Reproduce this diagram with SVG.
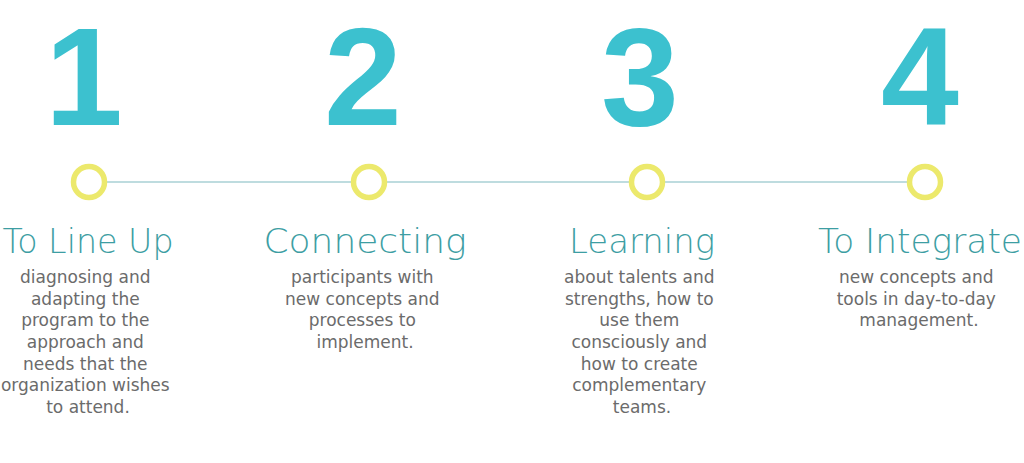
<svg xmlns="http://www.w3.org/2000/svg" width="1024" height="463" viewBox="0 0 1024 463">
<style>
.num{font-family:"Liberation Sans",Arial,sans-serif;font-weight:bold;font-size:140px;fill:#3cc1cf;text-anchor:middle}
.title{font-family:"DejaVu Sans","Liberation Sans",sans-serif;font-weight:300;font-size:33px;fill:#3d9ea3;text-anchor:middle}
.body{font-family:"DejaVu Sans","Liberation Sans",sans-serif;font-size:17px;fill:#6b6b6b;text-anchor:middle}
.dot{fill:none;stroke:#ece96c;stroke-width:5.5}
.conn{stroke:#a9d0d4;stroke-width:1.6;fill:none}
</style>
<rect width="1024" height="463" fill="#ffffff"/>
<g id="connectors">
<line class="conn" x1="105" y1="182" x2="353" y2="182"/>
<line class="conn" x1="385" y1="182" x2="631" y2="182"/>
<line class="conn" x1="663" y1="182" x2="909" y2="182"/>
</g>
<g id="step1">
<text class="num" x="84" y="125">1</text>
<circle class="dot" cx="89" cy="182" r="15.5"/>
<text class="title" x="88" y="253" textLength="171" lengthAdjust="spacingAndGlyphs">To Line Up</text>
<text class="body">
<tspan x="88" y="283">diagnosing and</tspan>
<tspan x="88" y="304.7">adapting the</tspan>
<tspan x="88" y="326.3">program to the</tspan>
<tspan x="88" y="348">approach and</tspan>
<tspan x="88" y="369.7">needs that the</tspan>
<tspan x="88" y="391.3">organization wishes</tspan>
<tspan x="88" y="413">to attend.</tspan>
</text>
</g>
<g id="step2">
<text class="num" x="363" y="125">2</text>
<circle class="dot" cx="369" cy="182" r="15.5"/>
<text class="title" x="365" y="253" textLength="203" lengthAdjust="spacingAndGlyphs">Connecting</text>
<text class="body">
<tspan x="365" y="283">participants with</tspan>
<tspan x="365" y="304.7">new concepts and</tspan>
<tspan x="365" y="326.3">processes to</tspan>
<tspan x="365" y="348">implement.</tspan>
</text>
</g>
<g id="step3">
<text class="num" x="640" y="125">3</text>
<circle class="dot" cx="647" cy="182" r="15.5"/>
<text class="title" x="642" y="253" textLength="146" lengthAdjust="spacingAndGlyphs">Learning</text>
<text class="body">
<tspan x="642" y="283">about talents and</tspan>
<tspan x="642" y="304.7">strengths, how to</tspan>
<tspan x="642" y="326.3">use them</tspan>
<tspan x="642" y="348">consciously and</tspan>
<tspan x="642" y="369.7">how to create</tspan>
<tspan x="642" y="391.3">complementary</tspan>
<tspan x="642" y="413">teams.</tspan>
</text>
</g>
<g id="step4">
<text class="num" x="920" y="125">4</text>
<circle class="dot" cx="925" cy="182" r="15.5"/>
<text class="title" x="920" y="253" textLength="204" lengthAdjust="spacingAndGlyphs">To Integrate</text>
<text class="body">
<tspan x="919" y="283">new concepts and</tspan>
<tspan x="919" y="304.7">tools in day-to-day</tspan>
<tspan x="919" y="326.3">management.</tspan>
</text>
</g>
</svg>
